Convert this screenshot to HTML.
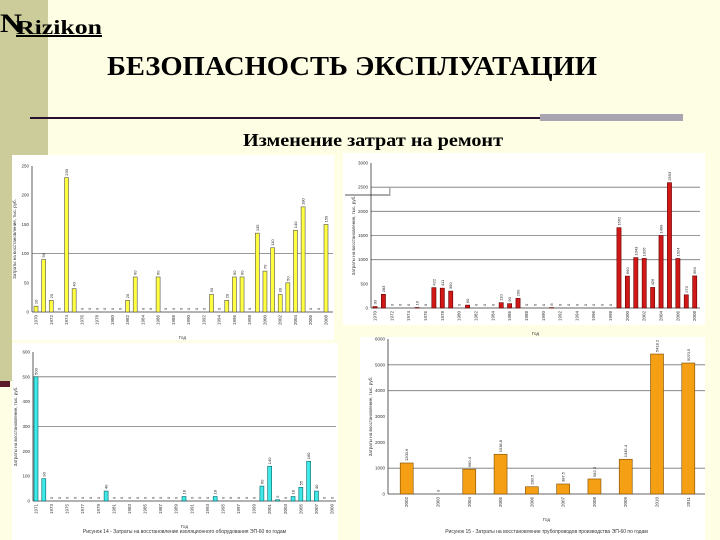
<!DOCTYPE html>
<html><head><meta charset="utf-8"><style>
html,body{margin:0;padding:0;width:720px;height:540px;overflow:hidden;background:#fefee4;}
svg text{font-family:"Liberation Sans",sans-serif;}
</style></head><body>
<svg id="s" width="720" height="540" xmlns="http://www.w3.org/2000/svg">
<rect x="0" y="0" width="48" height="155" fill="#cccc9a"/>
<rect x="0" y="155" width="12" height="226" fill="#cccc9a"/>
<rect x="0" y="381" width="10" height="6" fill="#5a1a2a"/>
<g>
<text x="0" y="32" font-size="26" font-weight="bold" fill="#000" style="font-family:'Liberation Serif',serif" textLength="22" lengthAdjust="spacingAndGlyphs">N</text>
<text x="16" y="34" font-size="20" font-weight="bold" fill="#000" text-decoration="underline" style="font-family:'Liberation Serif',serif" textLength="86" lengthAdjust="spacingAndGlyphs">Rizikon</text>
</g>
<text x="107" y="75" font-size="27" font-weight="bold" fill="#000" style="font-family:'Liberation Serif',serif" textLength="490" lengthAdjust="spacingAndGlyphs">БЕЗОПАСНОСТЬ ЭКСПЛУАТАЦИИ</text>
<rect x="30" y="117" width="653" height="2" fill="#2a1030"/>
<rect x="540" y="114" width="143" height="7" fill="#a8a4b0"/>
<text x="243" y="146" font-size="18" font-weight="bold" fill="#000" style="font-family:'Liberation Serif',serif" textLength="260" lengthAdjust="spacingAndGlyphs">Изменение затрат на ремонт</text>
<rect x="12" y="155" width="322" height="185" fill="#fff"/>
<rect x="343" y="153" width="362" height="172" fill="#fff"/>
<rect x="12" y="343" width="326" height="197" fill="#fff"/>
<rect x="360" y="337" width="345" height="203" fill="#fff"/>
<rect x="345" y="194" width="45" height="2" fill="#aaa"/>
<rect x="389" y="188" width="1.5" height="8" fill="#aaa"/>
<g id="charts"></g>
</svg>
<script>
const years1 = ["1970","1971","1972","1973","1974","1975","1976","1977","1978","1979","1980","1981","1982","1983","1984","1985","1986","1987","1988","1989","1990","1991","1992","1993","1994","1995","1996","1997","1998","1999","2000","2001","2002","2003","2004","2005","2006","2007","2008"];
const values1 = [10,90,20,0,230,40,0,0,0,0,0,0,20,60,0,0,60,0,0,0,0,0,0,30,0,20,60,60,0,135,70,110,30,50,140,180,0,0,150];
const ticks1 = [0,50,100,150,200,250];
const grid1 = [100];
const years2 = years1;
const values2 = [30,283,0,0,0,10,0,422,411,350,0,60,0,0,0,110,90,200,0,0,0,8,0,0,0,0,0,0,0,1662,660,1043,1026,426,1499,2593,1024,273,664];
const ticks2 = [0,500,1000,1500,2000,2500,3000];
const grid2 = [1000,1500,2000,2500];
const years3 = ["1971","1972","1973","1974","1975","1976","1977","1978","1979","1980","1981","1982","1983","1984","1985","1986","1987","1988","1989","1990","1991","1992","1993","1994","1995","1996","1997","1998","1999","2000","2001","2002","2003","2004","2005","2006","2007","2008","2009"];
const values3 = [500,90,0,0,0,0,0,0,0,40,0,0,0,0,0,0,0,0,0,18,0,0,0,18,0,0,0,0,0,60,140,5,0,18,55,160,40,0,0];
const ticks3 = [0,100,200,300,400,500,600];
const grid3 = [300,500];
const years4 = ["2002","2003","2004","2005","2006","2007","2008","2009","2010","2011"];
const values4 = [1200.6,0,960.4,1538.8,280.5,387.5,582.3,1345.4,5418.2,5070.5];
const ticks4 = [0,1000,2000,3000,4000,5000,6000];
const grid4 = [1000,4000,5000];

const NS="http://www.w3.org/2000/svg";
const root=document.getElementById('charts');
function mk(tag,attrs,parent){const e=document.createElementNS(NS,tag);for(const k in attrs)e.setAttribute(k,attrs[k]);(parent||root).appendChild(e);return e;}

function chart(id,cfg,cats,vals,ticks,grid){
  const g=mk('g',{});
  
  
  const yS=v=>cfg.y0-(v/cfg.max)*(cfg.y0-cfg.ytop);
  const n=cats.length;
  const sp=(cfg.cLast-cfg.cFirst)/(n-1);
  const xS=i=>cfg.cFirst+i*sp;
  grid.forEach(v=>{
    const l=mk('line',{x1:cfg.ax,x2:cfg.xr,y1:yS(v),y2:yS(v),stroke:'#777','stroke-width':0.8},g);
    
    
  });
  ticks.forEach(v=>{
    const t=mk('text',{x:cfg.ax-3,y:yS(v)+1.5,'font-size':4.5,'text-anchor':'end',fill:'#333'},g);
    t.textContent=v;
    
    
  });
  mk('line',{x1:cfg.ax,x2:cfg.ax,y1:cfg.ytop,y2:cfg.y0,stroke:'#333','stroke-width':0.8},g);
  mk('line',{x1:cfg.ax,x2:cfg.xr,y1:cfg.y0,y2:cfg.y0,stroke:'#333','stroke-width':0.8},g);
  vals.forEach((v,i)=>{
    const cx=xS(i);
    if(v>0){
      const r=mk('rect',{x:cx-cfg.bw/2,y:yS(v),width:cfg.bw,height:cfg.y0-yS(v),fill:cfg.fill,stroke:cfg.stroke,'stroke-width':0.6},g);
      
      
    }
    const ly=(v>0?yS(v):cfg.y0)-2;
    const t=mk('text',{x:cx+1.5,y:ly,'font-size':4,'text-anchor':'start',fill:'#222',transform:`rotate(-90 ${cx+1.5} ${ly})`},g);
    t.textContent=v>0?String(v):'0';
    
    
    if(i%cfg.every===0){
      const lx=cx+1.5, yy=cfg.y0+3;
      const xt=mk('text',{x:lx,y:yy,'font-size':4.5,'text-anchor':'end',fill:'#333',transform:`rotate(-90 ${lx} ${yy})`},g);
      xt.textContent=cats[i];
      
      
    }
  });
  const yt=mk('text',{x:cfg.ax-16,y:(cfg.y0+cfg.ytop)/2,'font-size':4.5,'text-anchor':'middle',fill:'#333',transform:`rotate(-90 ${cfg.ax-16} ${(cfg.y0+cfg.ytop)/2})`},g);
  yt.textContent='Затраты на восстановление, тыс. руб.';
  
  
  const xt=mk('text',{x:(cfg.ax+cfg.xr)/2,y:cfg.y0+27,'font-size':4.5,'text-anchor':'middle',fill:'#333'},g);
  xt.textContent='Год';
  
  
  if(cfg.caption){
    const c=mk('text',{x:(cfg.ax+cfg.xr)/2,y:cfg.capY,'font-size':5,'text-anchor':'middle',fill:'#333'},g);
    c.textContent=cfg.caption;
    
    
  }
}
chart('chart-yellow',{ax:32,xr:333,y0:312,ytop:166,max:250,cFirst:36,cLast:326,bw:4,fill:'#ffff40',stroke:'#555',every:2},years1,values1,ticks1,grid1);
chart('chart-red',{ax:371,xr:700,y0:308,ytop:163,max:3000,cFirst:375,cLast:694.7,bw:4.2,fill:'#d01818',stroke:'#600',every:2},years2,values2,ticks2,grid2);
chart('chart-cyan',{ax:33,xr:336,y0:501,ytop:352,max:600,cFirst:36,cLast:332,bw:4,fill:'#40e8e8',stroke:'#066',every:2,caption:'Рисунок 14 - Затраты на восстановление изоляционного оборудования ЭП-60 по годам',capY:533},years3,values3,ticks3,grid3);
chart('chart-orange',{ax:388,xr:705,y0:494,ytop:339,max:6000,cFirst:406.7,cLast:688.3,bw:13,fill:'#f5a014',stroke:'#7a4a00',every:1,caption:'Рисунок 15 - Затраты на восстановление трубопроводов производства ЭП-60 по годам',capY:533},years4,values4,ticks4,grid4);
</script>
</body></html>
